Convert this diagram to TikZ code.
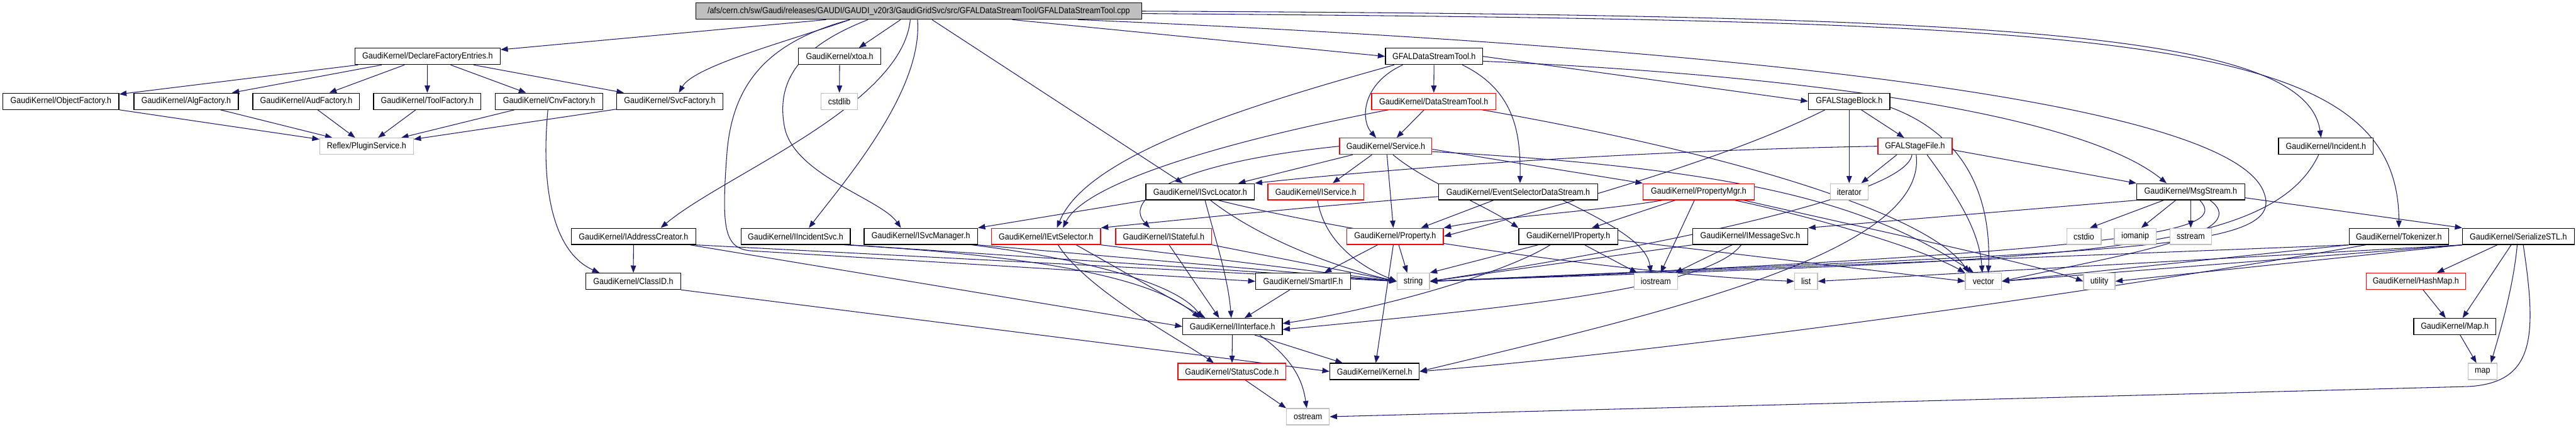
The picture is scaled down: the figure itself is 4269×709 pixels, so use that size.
\documentclass[tikz,border=0pt]{standalone}
\usepackage{fontspec}
\setmainfont{Liberation Sans}[FakeStretch=0.9]
\usetikzlibrary{arrows.meta}
\definecolor{edgec}{HTML}{191970}
\definecolor{gray75}{HTML}{BFBFBF}
\newcommand\gfont{\fontsize{14.5pt}{17pt}\selectfont}
\pgfdeclarelayer{bg}
\pgfsetlayers{bg,main}
\tikzset{
  nbox/.style={draw=black, line width=1.3pt, fill=white, minimum height=27pt, inner sep=0pt, font=\gfont},
  rbox/.style={nbox, draw=red},
  gbox/.style={nbox, draw=gray75},
  cbox/.style={nbox, fill=gray75},
  dep/.style={draw=edgec, line width=1.1pt, -{Triangle[length=12pt,width=9pt,color=edgec]}},
}
\begin{document}
\begin{tikzpicture}[x=1pt,y=-1pt]
\useasboundingbox (0,0) rectangle (4269,709);
% row 0
\node[cbox, minimum width=739pt] (cpp) at (1522.5,18.5) {/afs/cern.ch/sw/Gaudi/releases/GAUDI/GAUDI\_v20r3/GaudiGridSvc/src/GFALDataStreamTool/GFALDataStreamTool.cpp};
% row 1
\node[nbox, minimum width=241pt] (dfe) at (708.5,93.5) {GaudiKernel/DeclareFactoryEntries.h};
\node[nbox, minimum width=137pt] (xtoa) at (1391.5,93.5) {GaudiKernel/xtoa.h};
\node[nbox, minimum width=161pt] (gdst) at (2376.5,93.5) {GFALDataStreamTool.h};
% row 2
\node[nbox, minimum width=192pt] (objf) at (101,168) {GaudiKernel/ObjectFactory.h};
\node[nbox, minimum width=173pt] (algf) at (308.5,168) {GaudiKernel/AlgFactory.h};
\node[nbox, minimum width=177pt] (audf) at (507.5,168) {GaudiKernel/AudFactory.h};
\node[nbox, minimum width=178pt] (toolf) at (708,168) {GaudiKernel/ToolFactory.h};
\node[nbox, minimum width=178pt] (cnvf) at (910,168) {GaudiKernel/CnvFactory.h};
\node[nbox, minimum width=176pt] (svcf) at (1110,168) {GaudiKernel/SvcFactory.h};
\node[gbox, minimum width=60pt] (cstdlib) at (1391,168) {cstdlib};
\node[rbox, minimum width=206pt] (dst) at (2376,168) {GaudiKernel/DataStreamTool.h};
\node[nbox, minimum width=135pt] (gsb) at (3064.5,168) {GFALStageBlock.h};
% row 3
\node[gbox, minimum width=155pt] (plug) at (607.5,242.5) {Reflex/PluginService.h};
\node[rbox, minimum width=153pt] (svc) at (2296.5,242.5) {GaudiKernel/Service.h};
\node[rbox, minimum width=123pt] (gsf) at (3173.5,242.5) {GFALStageFile.h};
\node[nbox, minimum width=157pt] (incident) at (3854.5,242.5) {GaudiKernel/Incident.h};
% row 4
\node[nbox, minimum width=180pt] (isl) at (1989,318) {GaudiKernel/ISvcLocator.h};
\node[rbox, minimum width=159pt] (isvc) at (2180.5,318) {GaudiKernel/IService.h};
\node[nbox, minimum width=264pt] (esds) at (2516,318) {GaudiKernel/EventSelectorDataStream.h};
\node[rbox, minimum width=184pt] (pmgr) at (2815,318) {GaudiKernel/PropertyMgr.h};
\node[gbox, minimum width=63pt] (iter) at (3064.5,318) {iterator};
\node[nbox, minimum width=179pt] (msg) at (3630.5,318) {GaudiKernel/MsgStream.h};
% row 5
\node[nbox, minimum width=206pt] (iac) at (1050,392) {GaudiKernel/IAddressCreator.h};
\node[nbox, minimum width=181pt] (iinc) at (1318.5,392) {GaudiKernel/IIncidentSvc.h};
\node[nbox, minimum width=188pt] (ism) at (1526,392) {GaudiKernel/ISvcManager.h};
\node[rbox, minimum width=181pt] (ievt) at (1733.5,392) {GaudiKernel/IEvtSelector.h};
\node[rbox, minimum width=159pt] (istf) at (1928.5,392) {GaudiKernel/IStateful.h};
\node[rbox, minimum width=160pt] (prop) at (2312,392) {GaudiKernel/Property.h};
\node[nbox, minimum width=164pt] (iprop) at (2599,392) {GaudiKernel/IProperty.h};
\node[nbox, minimum width=191pt] (imsg) at (2900.5,392) {GaudiKernel/IMessageSvc.h};
\node[gbox, minimum width=57pt] (cstdio) at (3453.5,392) {cstdio};
\node[gbox, minimum width=69pt] (iomanip) at (3538.5,392) {iomanip};
\node[gbox, minimum width=69pt] (sstream) at (3630.5,392) {sstream};
\node[nbox, minimum width=165pt] (tok) at (3975.5,392) {GaudiKernel/Tokenizer.h};
\node[nbox, minimum width=185pt] (ser) at (4173.5,392) {GaudiKernel/SerializeSTL.h};
% row 6
\node[nbox, minimum width=157pt] (clid) at (1049.5,466.5) {GaudiKernel/ClassID.h};
\node[nbox, minimum width=157pt] (smartif) at (2159.5,466.5) {GaudiKernel/SmartIF.h};
\node[gbox, minimum width=54pt] (string) at (2342,466.5) {string};
\node[gbox, minimum width=72pt] (iostream) at (2744,466.5) {iostream};
\node[gbox, minimum width=38pt] (list) at (2993,466.5) {list};
\node[gbox, minimum width=60pt] (vector) at (3287,466.5) {vector};
\node[gbox, minimum width=52pt] (utility) at (3479,466.5) {utility};
\node[rbox, minimum width=165pt] (hashmap) at (4003.5,466.5) {GaudiKernel/HashMap.h};
% row 7
\node[nbox, minimum width=165pt] (iint) at (2042.5,541.5) {GaudiKernel/IInterface.h};
\node[nbox, minimum width=136pt] (maph) at (4068,541.5) {GaudiKernel/Map.h};
% row 8
\node[rbox, minimum width=179pt] (sc) at (2041.5,616) {GaudiKernel/StatusCode.h};
\node[nbox, minimum width=148pt] (kernel) at (2278,616) {GaudiKernel/Kernel.h};
\node[gbox, minimum width=48pt] (map) at (4114,616) {map};
% row 9
\node[gbox, minimum width=71pt] (ostream) at (2167.5,691) {ostream};

\begin{pgfonlayer}{bg}
% cpp
\draw[dep] (cpp) -- (dfe);
\draw[dep] ([xshift=-114pt]cpp.south) .. controls (1300,70) and (1150,110) .. ([xshift=15pt]svcf.north);
\draw[dep] ([xshift=-30pt]cpp.south) -- ([xshift=32pt]xtoa.north);
\draw[dep] ([xshift=-14pt]cpp.south) .. controls (1495,175) and (1200,290) .. ([xshift=45pt]iac.north);
\draw[dep] ([xshift=-2pt]cpp.south) .. controls (1530,150) and (1400,300) .. ([xshift=22pt]iinc.north);
\draw[dep] ([xshift=-84pt]cpp.south) .. controls (1330,75) and (1285,130) .. (1300,210) .. controls (1315,290) and (1460,330) .. ([xshift=-33pt]ism.north);
\draw[dep] ([xshift=-114pt]cpp.south) .. controls (1270,70) and (1215,140) .. (1205,250) .. controls (1195,380) and (1200,412) .. (1245,416) -- (smartif.west);
\draw[dep] ([xshift=22pt]cpp.south) -- ([xshift=-29pt]isl.north);
\draw[dep] ([xshift=155pt]cpp.south) -- (gdst.west);
\draw[dep] (cpp.east) .. controls (3300,25) and (3820,50) .. ([xshift=-8pt]incident.north);
\draw[dep] ([yshift=-4pt]cpp.east) .. controls (3500,35) and (3975,50) .. (tok.north);
\draw[dep] ([xshift=264pt]cpp.south) .. controls (2900,80) and (3700,170) .. (3752,320) .. controls (3790,420) and (3500,415) .. (string.east);
% factories
\draw[dep] (dfe) -- (objf);
\draw[dep] (dfe) -- (algf);
\draw[dep] (dfe) -- (audf);
\draw[dep] (dfe) -- (toolf);
\draw[dep] (dfe) -- (cnvf);
\draw[dep] (dfe) -- (svcf);
\draw[dep] (objf) -- (plug);
\draw[dep] (algf) -- (plug);
\draw[dep] (audf) -- (plug);
\draw[dep] (toolf) -- (plug);
\draw[dep] (cnvf) -- (plug);
\draw[dep] (svcf) -- (plug);
\draw[dep] ([xshift=-2pt]cnvf.south) .. controls (895,320) and (920,420) .. ([xshift=-56pt]clid.north);
\draw[dep] (xtoa) -- (cstdlib);
% GFALDataStreamTool.h
\draw[dep] (gdst) -- (dst);
\draw[dep] ([xshift=-52pt]gdst.south) .. controls (2255,140) and (2255,200) .. ([xshift=-16pt]svc.north);
\draw[dep] ([xshift=-66pt]gdst.south) .. controls (2050,180) and (1800,260) .. ([xshift=18pt]ievt.north);
\draw[dep] ([xshift=47pt]gdst.south) .. controls (2510,150) and (2520,220) .. ([xshift=3pt]esds.north);
\draw[dep] (gdst.east) -- (gsb.west);
\draw[dep] ([yshift=-8pt]gdst.east) .. controls (3000,125) and (3450,190) .. ([xshift=-40pt]msg.north);
% DataStreamTool.h
\draw[dep] ([xshift=-16pt]dst.south) -- ([xshift=18pt]svc.north);
\draw[dep] ([xshift=-75pt]dst.south) .. controls (2050,230) and (1800,300) .. ([xshift=28pt]ievt.north);
\draw[dep] ([xshift=80pt]dst.south) .. controls (2900,260) and (3200,360) .. ([xshift=-24pt]vector.north);
% Service.h
\draw[dep] ([xshift=-55pt]svc.south) -- ([xshift=63pt]isl.north);
\draw[dep] ([xshift=-23pt]svc.south) -- ([xshift=28pt]isvc.north);
\draw[dep] (svc.west) .. controls (1950,270) and (1860,330) .. ([xshift=-23pt]istf.north);
\draw[dep] ([xshift=2pt]svc.south) -- ([xshift=-3pt]prop.north);
\draw[dep] ([yshift=-5pt]svc.east) -- (pmgr.north west);
\draw[dep] ([xshift=12pt]svc.south) .. controls (2360,300) and (2460,340) .. (iprop.north west);
\draw[dep] ([yshift=-9pt]svc.east) .. controls (2900,280) and (3100,340) .. ([xshift=-16pt]vector.north);
% GFALStageBlock.h
\draw[dep] (gsb) -- (iter);
\draw[dep] ([xshift=20pt]gsb.south) -- ([xshift=-18pt]gsf.north);
\draw[dep] ([xshift=-40pt]gsb.south) .. controls (2850,270) and (2550,350) .. (prop.east);
\draw[dep] ([yshift=-10pt]gsb.east) .. controls (3260,225) and (3300,330) .. ([xshift=8pt]vector.north);
% GFALStageFile.h
\draw[dep] ([xshift=-30pt]gsf.south) -- ([xshift=20pt]iter.north);
\draw[dep] ([yshift=-6pt]gsf.east) -- (msg.north west);
\draw[dep] (gsf.west) .. controls (2700,250) and (2300,280) .. (isl.north east);
\draw[dep] ([xshift=20pt]gsf.south) .. controls (3240,320) and (3280,380) .. ([xshift=-2pt]vector.north);
\draw[dep] ([xshift=-5pt]gsf.south) .. controls (3160,320) and (2800,400) .. (string.east);
\draw[dep] ([xshift=2pt]gsf.south) .. controls (3195,420) and (2750,520) .. (kernel.east);
% Incident.h
\draw[dep] ([xshift=-12pt]incident.south) .. controls (3760,430) and (3400,430) .. (string.east);
% MsgStream.h
\draw[dep] ([xshift=-45pt]msg.south) -- ([xshift=10pt]cstdio.north);
\draw[dep] ([xshift=-25pt]msg.south) -- ([xshift=10pt]iomanip.north);
\draw[dep] (msg) -- (sstream);
\draw[dep] ([yshift=-10pt]msg.east) -- (ser.north west);
\draw[dep] (msg.south west) -- (imsg.north east);
\draw[dep] ([xshift=15pt]msg.south) .. controls (3690,380) and (3600,415) .. (string.east);
\draw[dep] ([xshift=32pt]msg.south) .. controls (3740,390) and (3500,425) .. (vector.east);
% Tokenizer.h
\draw[dep] (tok.south west) -- (string.east);
\draw[dep] (tok.south west) -- (vector.east);
\draw[dep] ([xshift=-55pt]tok.south) .. controls (3500,480) and (2800,580) .. (kernel.east);
% SerializeSTL.h
\draw[dep] ([xshift=-35pt]ser.south) -- ([xshift=35pt]hashmap.north);
\draw[dep] ([xshift=-12pt]ser.south) -- ([xshift=13pt]maph.north);
\draw[dep] ([xshift=-2pt]ser.south) .. controls (4165,480) and (4140,560) .. ([xshift=14pt]map.north);
\draw[dep] ([xshift=8pt]ser.south) .. controls (4205,560) and (4200,635) .. (4090,641) -- (ostream.east);
\draw[dep] (ser.south west) -- (vector.east);
\draw[dep] (ser.south west) -- (list.east);
\draw[dep] (ser.south west) -- (utility.east);
\draw[dep] ([xshift=12pt]hashmap.south) -- ([xshift=-15pt]maph.north);
\draw[dep] ([xshift=9pt]maph.south) -- ([xshift=-10pt]map.north);
% IMessageSvc.h
\draw[dep] ([xshift=-30pt]imsg.south) -- ([xshift=32pt]iostream.north);
\draw[dep] (imsg.south west) -- (string.east);
\draw[dep] ([xshift=-15pt]imsg.south) .. controls (2830,480) and (2500,510) .. ([yshift=-5pt]iint.east);
% IProperty.h
\draw[dep] ([xshift=27pt]iprop.south) -- ([xshift=-31pt]iostream.north);
\draw[dep] ([xshift=-50pt]iprop.south) -- (string.north east);
\draw[dep] ([xshift=-30pt]iprop.south) .. controls (2500,450) and (2300,510) .. ([yshift=5pt]iint.east);
\draw[dep] ([yshift=-6pt]iprop.east) -- (vector.west);
% Property.h
\draw[dep] ([xshift=-29pt]prop.south) -- ([xshift=35pt]smartif.north);
\draw[dep] ([xshift=6pt]prop.south) -- ([xshift=-10pt]string.north);
\draw[dep] ([xshift=-3pt]prop.south) -- ([xshift=2pt]kernel.north);
% PropertyMgr.h
\draw[dep] ([xshift=-60pt]pmgr.south) .. controls (2650,350) and (2480,360) .. (prop.north east);
\draw[dep] ([xshift=-39pt]pmgr.south) -- ([xshift=39pt]iprop.north);
\draw[dep] ([xshift=-7pt]pmgr.south) -- ([xshift=8pt]iostream.north);
\draw[dep] ([xshift=60pt]pmgr.south) .. controls (3050,370) and (3200,420) .. (vector.north west);
\draw[dep] ([xshift=75pt]pmgr.south) .. controls (3100,380) and (3380,440) .. (utility.west);
% EventSelectorDataStream.h
\draw[dep] ([yshift=-8pt]esds.west) .. controls (2200,340) and (1950,365) .. (ievt.north east);
\draw[dep] ([xshift=74pt]esds.south) .. controls (2690,380) and (2730,410) .. ([xshift=-8pt]iostream.north);
\draw[dep] ([xshift=-41pt]esds.south) -- ([xshift=43pt]prop.north);
% IEvtSelector.h
\draw[dep] ([xshift=50pt]ievt.south) -- ([xshift=-45pt]iint.north);
\draw[dep] ([xshift=20pt]ievt.south) .. controls (1800,480) and (1950,560) .. ([xshift=-30pt]sc.north);
\draw[dep] (ievt.south east) -- (string.west);
% IStateful.h
\draw[dep] ([xshift=9pt]istf.south) -- ([xshift=-22pt]iint.north);
\draw[dep] (istf.south east) -- (string.west);
% IService.h
\draw[dep] ([xshift=3pt]isvc.south) .. controls (2195,400) and (2250,440) .. (string.west);
% ISvcLocator.h
\draw[dep] (isl.south west) -- (ism.north east);
\draw[dep] ([xshift=8pt]isl.south) .. controls (2015,400) and (2035,460) .. ([xshift=-2pt]iint.north);
\draw[dep] ([xshift=17pt]isl.south) .. controls (2080,390) and (2200,440) .. (string.west);
\draw[dep] ([xshift=30pt]isl.south) .. controls (2250,390) and (2700,455) .. (list.west);
% IAddressCreator.h
\draw[dep] (iac) -- (clid);
\draw[dep] ([xshift=-10pt]iac.south east) -- (iint.west);
\draw[dep] (iac.south east) -- (string.west);
% IIncidentSvc.h
\draw[dep] (iinc.south east) -- (string.west);
\draw[dep] ([xshift=-10pt]iinc.south east) .. controls (1650,420) and (1900,450) .. ([xshift=-55pt]iint.north);
% ISvcManager.h
\draw[dep] (ism.south east) -- (string.west);
\draw[dep] ([xshift=-10pt]ism.south east) .. controls (1800,430) and (1950,470) .. ([xshift=-50pt]iint.north);
% ClassID.h
\draw[dep] (clid.south east) -- (kernel.west);
% SmartIF.h
\draw[dep] ([xshift=-22pt]smartif.south) -- ([xshift=20pt]iint.north);
% IInterface.h
\draw[dep] (iint) -- (sc);
\draw[dep] ([xshift=37pt]iint.south) -- ([xshift=-53pt]kernel.north);
\draw[dep] ([xshift=45pt]iint.south) .. controls (2150,600) and (2160,640) .. ([xshift=-2pt]ostream.north);
% StatusCode.h
\draw[dep] ([xshift=22pt]sc.south) -- (ostream.north west);
\end{pgfonlayer}
\end{tikzpicture}
\end{document}
